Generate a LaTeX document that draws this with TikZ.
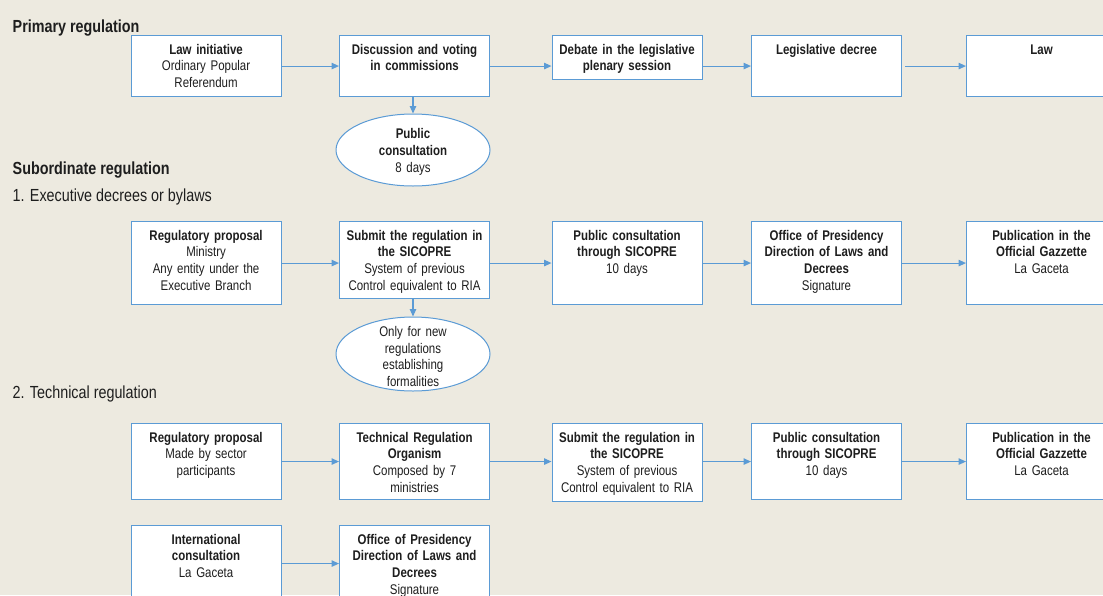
\documentclass[tikz,border=0pt]{standalone}
\usepackage{fontspec}
\setmainfont{Liberation Sans}[FakeStretch=0.82]
\usepackage{xcolor}
\usetikzlibrary{arrows.meta,shapes.geometric}

\definecolor{paper}{HTML}{EDEAE0}
\definecolor{flowblue}{HTML}{5B9BD5}
\definecolor{ink}{HTML}{1E1E1E}

\tikzset{
  procbox/.style={draw=flowblue, fill=white, line width=1.1pt, anchor=north west,
    text width=144pt, inner xsep=3pt, inner ysep=8.5pt, align=center,
    text height=10pt, text depth=#1},
  consult/.style={ellipse, draw=flowblue, fill=white, line width=1pt,
    minimum width=154pt, minimum height=72pt, inner sep=0pt, text width=100pt,
    align=center, text height=5pt},
  flow/.style={draw=flowblue, line width=1.1pt, -{Triangle[length=7.5pt,width=6.5pt]}},
  heading/.style={anchor=base west, inner sep=0pt, font=\fontsize{17.5}{21}\selectfont\bfseries},
  subheading/.style={anchor=base west, inner sep=0pt, font=\fontsize{17.5}{21}\selectfont},
}

\begin{document}
\begin{tikzpicture}[x=1pt,y=-1pt,font=\fontsize{14}{16.8}\selectfont,text=ink]
  \useasboundingbox (0,0) rectangle (1103,595);
  \fill[paper] (0,0) rectangle (1103,595);

  % primary regulation
  \node[heading] (primary) at (12.5,32.5) {Primary regulation};
  \node[procbox=34pt] (lawinit) at (130.5,35) {\textbf{Law initiative}\\Ordinary Popular\\Referendum};
  \node[procbox=34pt] (discuss) at (339,35) {\textbf{Discussion and voting}\\\textbf{in commissions}};
  \node[procbox=17pt] (debate) at (551.5,35) {\textbf{Debate in the legislative}\\\textbf{plenary session}};
  \node[procbox=34pt] (legdecree) at (751,35) {\textbf{Legislative decree}};
  \node[procbox=34pt] (law) at (966,35) {\textbf{Law}};
  \node[consult, text depth=27.6pt] (pc8) at (413,150) {\textbf{Public}\\\textbf{consultation}\\8 days};

  \draw[flow] (lawinit.east) -- (lawinit.east -| discuss.west);
  \draw[flow] (discuss.east) -- (discuss.east -| debate.west);
  \draw[flow] (legdecree.west -| debate.east) -- (legdecree.west);
  \draw[flow] ([xshift=3pt]legdecree.east) -- (legdecree.east -| law.west);
  \draw[flow] (discuss.south -| pc8.north) -- (pc8.north);

  % subordinate regulation
  \node[heading] (subordinate) at (12.5,174.3) {Subordinate regulation};
  \node[subheading] (executive) at (12.5,201) {1. Executive decrees or bylaws};
  \node[procbox=56pt] (regprop) at (130.5,221) {\textbf{Regulatory proposal}\\Ministry\\Any entity under the\\Executive Branch};
  \node[procbox=49.5pt] (sicopre) at (339,221) {\textbf{Submit the regulation in}\\\textbf{the SICOPRE}\\System of previous\\Control equivalent to RIA};
  \node[procbox=56pt] (pc10) at (551.5,221) {\textbf{Public consultation}\\\textbf{through SICOPRE}\\10 days};
  \node[procbox=56pt] (presidency) at (751,221) {\textbf{Office of Presidency}\\\textbf{Direction of Laws and}\\\textbf{Decrees}\\Signature};
  \node[procbox=56pt] (gazette) at (966,221) {\textbf{Publication in the}\\\textbf{Official Gazzette}\\La Gaceta};
  \node[consult, minimum height=74pt, text depth=40.6pt] (formal) at (413,354) {Only for new\\regulations\\establishing\\formalities};

  \draw[flow] (regprop.east) -- (regprop.east -| sicopre.west);
  \draw[flow] (pc10.west -| sicopre.east) -- (pc10.west);
  \draw[flow] (pc10.east) -- (presidency.west);
  \draw[flow] (presidency.east) -- (gazette.west);
  \draw[flow] (sicopre.south -| formal.north) -- (formal.north);

  % technical regulation
  \node[subheading] (technical) at (12.5,398.5) {2. Technical regulation};
  \node[procbox=49pt] (techprop) at (130.5,423) {\textbf{Regulatory proposal}\\Made by sector\\participants};
  \node[procbox=49pt] (organism) at (339,423) {\textbf{Technical Regulation}\\\textbf{Organism}\\Composed by 7\\ministries};
  \node[procbox=50.5pt] (techsicopre) at (551.5,423) {\textbf{Submit the regulation in}\\\textbf{the SICOPRE}\\System of previous\\Control equivalent to RIA};
  \node[procbox=49pt] (techpc) at (751,423) {\textbf{Public consultation}\\\textbf{through SICOPRE}\\10 days};
  \node[procbox=49pt] (techgazette) at (966,423) {\textbf{Publication in the}\\\textbf{Official Gazzette}\\La Gaceta};
  \node[procbox=49pt] (intl) at (130.5,525) {\textbf{International}\\\textbf{consultation}\\La Gaceta};
  \node[procbox=49pt] (techpresidency) at (339,525) {\textbf{Office of Presidency}\\\textbf{Direction of Laws and}\\\textbf{Decrees}\\Signature};

  \draw[flow] (techprop.east) -- (organism.west);
  \draw[flow] (organism.east) -- (organism.east -| techsicopre.west);
  \draw[flow] (techpc.west -| techsicopre.east) -- (techpc.west);
  \draw[flow] (techpc.east) -- (techgazette.west);
  \draw[flow] (intl.east) -- (techpresidency.west);
\end{tikzpicture}
\end{document}
